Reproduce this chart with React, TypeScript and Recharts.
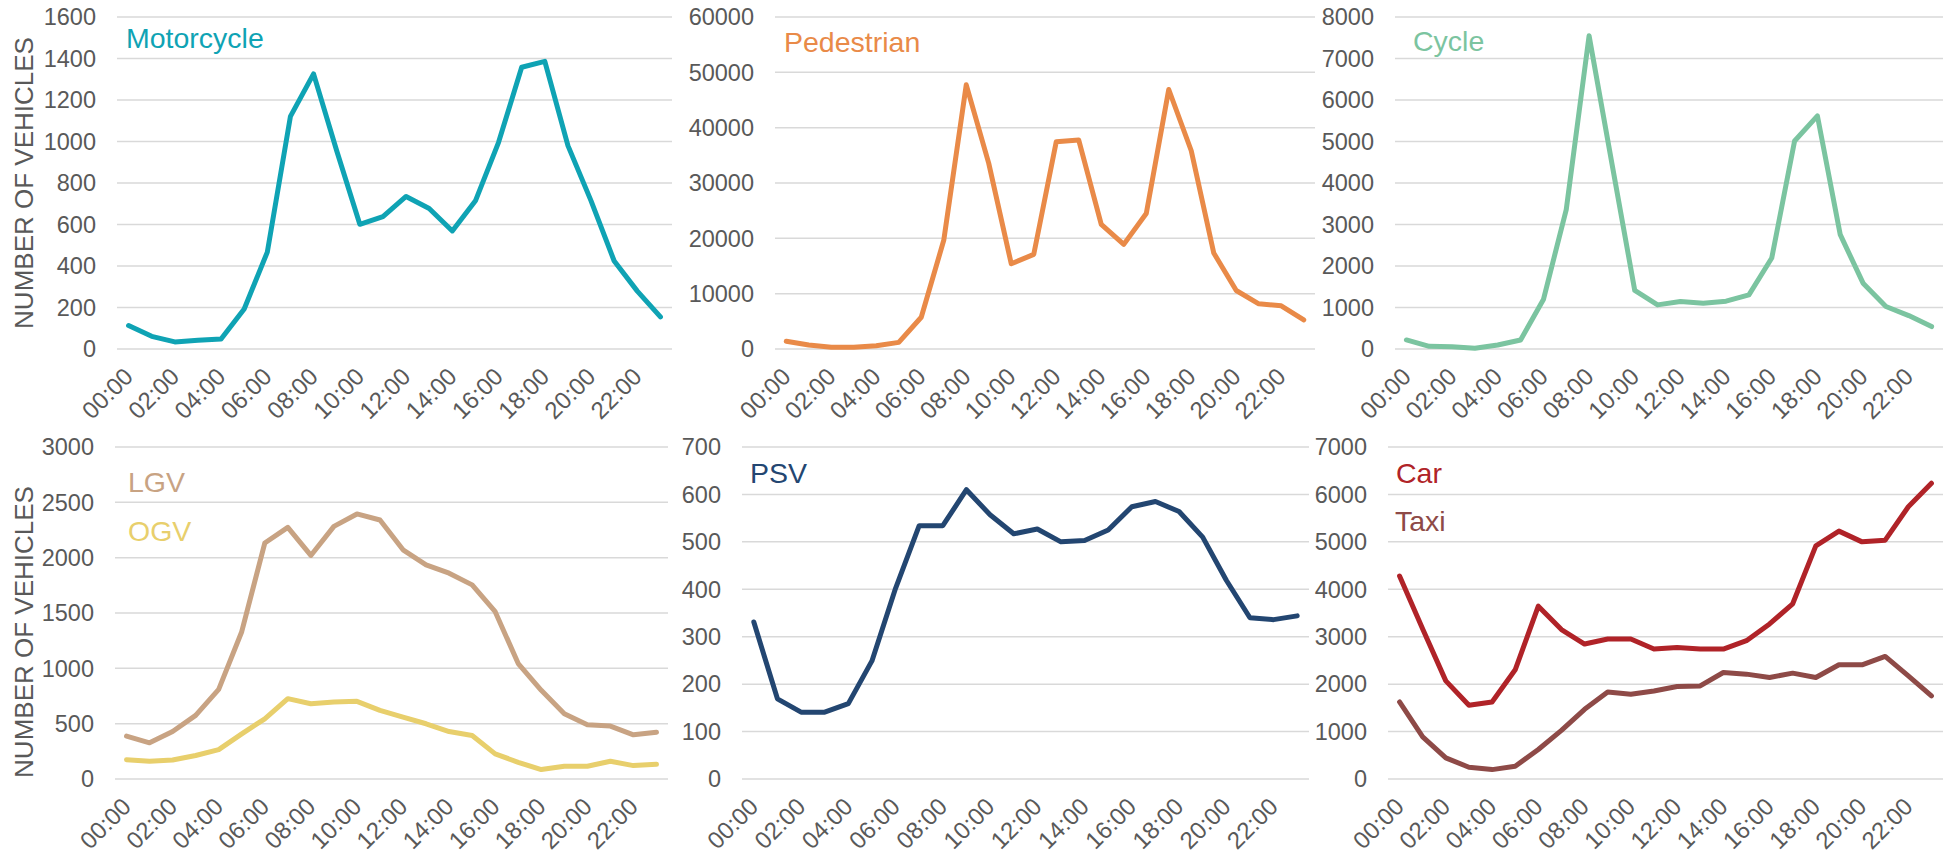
import { LineChart, Line, XAxis, YAxis, CartesianGrid } from 'recharts';

const FONT = '"Liberation Sans", Arial, sans-serif';
const TEXT = '#595959';
const GRID = '#d9d9d9';

const HOURS = [
  '00:00', '01:00', '02:00', '03:00', '04:00', '05:00', '06:00', '07:00',
  '08:00', '09:00', '10:00', '11:00', '12:00', '13:00', '14:00', '15:00',
  '16:00', '17:00', '18:00', '19:00', '20:00', '21:00', '22:00', '23:00',
];
const LABEL_HOURS = [0, 2, 4, 6, 8, 10, 12, 14, 16, 18, 20, 22];

const MOTORCYCLE = [113, 61, 34, 42, 48, 193, 467, 1121, 1326, 955, 601, 638, 735, 677, 569, 714, 996, 1358, 1386, 980, 714, 424, 279, 155];
const PEDESTRIAN = [1390, 725, 300, 300, 600, 1200, 5740, 19640, 47740, 33540, 15400, 17100, 37460, 37760, 22540, 18910, 24470, 46900, 35830, 17340, 10570, 8160, 7800, 5260];
const CYCLE = [218, 64, 56, 16, 97, 218, 1192, 3360, 7549, 4471, 1410, 1063, 1144, 1104, 1152, 1305, 2192, 5012, 5617, 2755, 1587, 1023, 806, 540];
const LGV = [387, 327, 429, 575, 810, 1331, 2132, 2274, 2020, 2283, 2395, 2340, 2071, 1935, 1860, 1754, 1512, 1043, 801, 590, 490, 478, 399, 423];
const OGV = [175, 160, 172, 212, 266, 408, 544, 726, 680, 695, 702, 620, 559, 499, 429, 393, 227, 151, 85, 115, 115, 160, 121, 133];
const PSV = [331, 169, 141, 141, 159, 249, 402, 534, 534, 610, 557, 517, 527, 500, 503, 525, 574, 585, 564, 510, 419, 340, 336, 344];
const CAR = [4280, 3164, 2069, 1554, 1624, 2302, 3644, 3150, 2846, 2952, 2952, 2740, 2775, 2740, 2740, 2917, 3270, 3694, 4915, 5226, 5000, 5035, 5741, 6236];
const TAXI = [1624, 890, 445, 247, 198, 268, 621, 1024, 1469, 1836, 1787, 1857, 1949, 1963, 2246, 2211, 2140, 2232, 2140, 2408, 2408, 2585, 2175, 1751];

const TICKS_MOTORCYCLE = [0, 200, 400, 600, 800, 1000, 1200, 1400, 1600];
const TICKS_PEDESTRIAN = [0, 10000, 20000, 30000, 40000, 50000, 60000];
const TICKS_CYCLE = [0, 1000, 2000, 3000, 4000, 5000, 6000, 7000, 8000];
const TICKS_GOODS = [0, 500, 1000, 1500, 2000, 2500, 3000];
const TICKS_PSV = [0, 100, 200, 300, 400, 500, 600, 700];
const TICKS_CAR = [0, 1000, 2000, 3000, 4000, 5000, 6000, 7000];

const data = HOURS.map((label, i) => ({
  hour: i,
  label,
  motorcycle: MOTORCYCLE[i],
  pedestrian: PEDESTRIAN[i],
  cycle: CYCLE[i],
  lgv: LGV[i],
  ogv: OGV[i],
  psv: PSV[i],
  car: CAR[i],
  taxi: TAXI[i],
}));

const panels = [
  { left: 117, right: 672, top: 17, bottom: 349, ticks: TICKS_MOTORCYCLE,
    series: [{ key: 'motorcycle', name: 'Motorcycle', color: '#0fa3b4', dx: 9, y: 48 }] },
  { left: 775, right: 1315, top: 17, bottom: 349, ticks: TICKS_PEDESTRIAN,
    series: [{ key: 'pedestrian', name: 'Pedestrian', color: '#e98a48', dx: 9, y: 52 }] },
  { left: 1395, right: 1943, top: 17, bottom: 349, ticks: TICKS_CYCLE,
    series: [{ key: 'cycle', name: 'Cycle', color: '#7bc4a0', dx: 18, y: 51 }] },
  { left: 115, right: 668, top: 447, bottom: 779, ticks: TICKS_GOODS,
    series: [
      { key: 'lgv', name: 'LGV', color: '#c8a383', dx: 13, y: 492 },
      { key: 'ogv', name: 'OGV', color: '#e8cf6c', dx: 13, y: 541 },
    ] },
  { left: 742, right: 1309, top: 447, bottom: 779, ticks: TICKS_PSV,
    series: [{ key: 'psv', name: 'PSV', color: '#234671', dx: 8, y: 483 }] },
  { left: 1388, right: 1943, top: 447, bottom: 779, ticks: TICKS_CAR,
    series: [
      { key: 'car', name: 'Car', color: '#b02328', dx: 8, y: 483 },
      { key: 'taxi', name: 'Taxi', color: '#8e4a47', dx: 7, y: 531 },
    ] },
];

function XTick(props: any) {
  const { x, y, payload } = props;
  const tx = x + 6;
  const ty = y + 29;
  return (
    <text x={tx} y={ty} transform={`rotate(-45, ${tx}, ${ty})`} textAnchor="end"
      fill={TEXT} fontSize={24} fontFamily={FONT}>
      {HOURS[payload.value]}
    </text>
  );
}

function Panel({ p }: { p: any }) {
  const YW = 100, MT = 20, MR = 6, XH = 90;
  const plotW = p.right - p.left;
  const plotH = p.bottom - p.top;
  const max = p.ticks[p.ticks.length - 1];
  return (
    <div style={{ position: 'absolute', left: p.left - YW, top: p.top - MT }}>
      <LineChart width={YW + plotW + MR} height={MT + plotH + XH} data={data}
        margin={{ top: MT, right: MR, bottom: 0, left: 0 }}>
        <CartesianGrid vertical={false} stroke={GRID} strokeWidth={1.5} />
        <XAxis dataKey="hour" type="number" domain={[-0.5, 23.5]} ticks={LABEL_HOURS}
          interval={0} height={XH} axisLine={false} tickLine={false} tickSize={0}
          tickMargin={0} tick={(tp: any) => <XTick {...tp} />} />
        <YAxis width={YW} domain={[0, max]} ticks={p.ticks} interval={0}
          axisLine={false} tickLine={false} tickSize={0} tickMargin={21}
          tick={{ fill: TEXT, fontSize: 23.5, fontFamily: FONT }} />
        {p.series.map((s: any) => (
          <Line key={s.key} type="linear" dataKey={s.key} stroke={s.color} strokeWidth={5}
            dot={false} activeDot={false} strokeLinejoin="round" strokeLinecap="round"
            isAnimationActive={false} />
        ))}
      </LineChart>
    </div>
  );
}

export default function App() {
  return (
    <div style={{ position: 'absolute', left: 0, top: 0, width: 1951, height: 854,
      background: '#fff', fontFamily: FONT, overflow: 'hidden' }}>
      {panels.map((p, i) => <Panel key={i} p={p} />)}
      <svg width={1951} height={854} style={{ position: 'absolute', left: 0, top: 0, pointerEvents: 'none' }}>
        {panels.map((p) => p.series.map((s: any) => (
          <text key={s.key} x={p.left + s.dx} y={s.y} fill={s.color} fontSize={28.5} fontFamily={FONT}>
            {s.name}
          </text>
        )))}
        <text x={33} y={183} transform="rotate(-90, 33, 183)" textAnchor="middle"
          fill={TEXT} fontSize={26} fontFamily={FONT}>NUMBER OF VEHICLES</text>
        <text x={33} y={632} transform="rotate(-90, 33, 632)" textAnchor="middle"
          fill={TEXT} fontSize={26} fontFamily={FONT}>NUMBER OF VEHICLES</text>
      </svg>
    </div>
  );
}
